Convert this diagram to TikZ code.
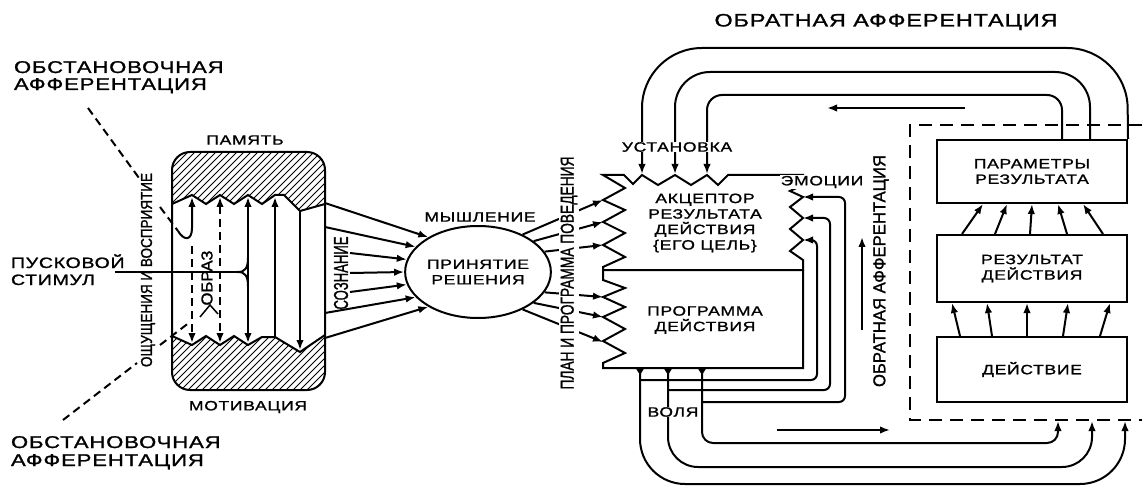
\documentclass[tikz,border=0pt]{standalone}
\usepackage{graphicx}
\usepackage{fontspec}
\setmainfont{Liberation Sans}
\newfontfamily\hf[FakeStretch=1.3,LetterSpace=5,FakeBold=1.3]{Liberation Sans}
\newfontfamily\vf[FakeBold=1.3]{Liberation Sans}
\usetikzlibrary{arrows.meta,shapes.geometric}
\begin{document}
\begin{tikzpicture}[x=1pt,y=-1pt,line width=2pt,
  ar/.style={-{Latex[length=10pt,width=7.5pt]}},
  arr/.style={{Latex[length=10pt,width=7.5pt]}-{Latex[length=10pt,width=7.5pt]}},
  dsh/.style={dash pattern=on 8pt off 5pt},
  lbl/.style={font=\hf\fontsize{13.5}{15.5}\selectfont, inner sep=0.5pt, align=center},
  wlbl/.style={lbl, fill=white},
  lft/.style={font=\hf\fontsize{17}{19}\selectfont, inner sep=0pt, anchor=base west},
  lfts/.style={font=\hf\fontsize{15}{17}\selectfont, inner sep=0pt, anchor=base west},
  rbox/.style={draw, minimum width=190pt, lbl, inner sep=2pt},
  vt/.style={rotate=90, inner sep=1pt, font=\vf}]
\useasboundingbox (0,0) rectangle (1142,486);
\fill[white] (0,0) rectangle (1142,486);

% ---------- memory block ----------
\begin{scope}
  \clip[rounded corners=18] (172,152) rectangle (325,390);
  \begin{scope}
    \clip (160,140) -- (335,140) -- (335,204) -- (325,204) -- (300,211) -- (284,195) -- (275,195)
      -- (262,204) -- (248,195) -- (234,204) -- (220,195) -- (206,204) -- (192,195) -- (172,204) -- (160,204) -- cycle;
    \foreach \i in {-130,-123,...,330} \draw[line width=1pt] (\i,400) -- ++(270,-270);
  \end{scope}
  \begin{scope}
    \clip (160,336) -- (172,336) -- (192,345) -- (206,336) -- (220,345) -- (234,336) -- (248,345) -- (262,337)
      -- (275,337) -- (300,352) -- (325,335) -- (335,335) -- (335,400) -- (160,400) -- cycle;
    \foreach \i in {-130,-123,...,330} \draw[line width=1pt] (\i,400) -- ++(270,-270);
  \end{scope}
\end{scope}
\draw (172,204) -- (192,195) -- (206,204) -- (220,195) -- (234,204) -- (248,195) -- (262,204) -- (275,195)
  -- (284,195) -- (300,211) -- (325,204);
\draw (172,336) -- (192,345) -- (206,336) -- (220,345) -- (234,336) -- (248,345) -- (262,337)
  -- (275,337) -- (300,352) -- (325,335);
\draw[rounded corners=18] (172,152) rectangle (325,390);

% afferent dashed lines and inner arrows
\coordinate (oa1) at (88,108);
\coordinate (oa2) at (63,420);
\draw[dsh] (oa1) -- (139,178);
\draw[dsh] (160,207) -- (178,231);
\draw[ar] (178,231) .. controls (184,241) and (192,241) .. (192,228) -- (192,197);
\draw[ar, dsh] (192,246) -- (192,343);
\draw[dsh] (oa2) -- (137,363);
\draw[dsh] (160,345) -- (190,322);
\draw[arr, dsh] (220,197) -- (220,343);
\draw[line width=1.5pt] (200,317) -- (210,305) -- (218,314);
\draw[arr] (248,197) -- (248,343);
\draw[ar] (275,337) -- (275,197);
\draw[ar] (300,210) -- (300,350);
\coordinate (stim) at (115,272);
\draw (stim) -- (238,272);
\draw (248,258) .. controls (248,268) and (245,272) .. (238,272) .. controls (245,272) and (248,276) .. (248,286);

% ---------- decision ----------
\node[draw, ellipse, minimum width=124pt, minimum height=92pt, inner sep=0pt, lbl] (dec) at (478,272) {ПРИНЯТИЕ\\РЕШЕНИЯ};
\foreach \y/\s/\a in {203/325/145, 227/325/158, 253/350/170, 273/350/180, 292/350/190, 313/325/202, 338/325/215}
  \draw[ar] (\s,\y) -- (dec.\a);
\foreach \a/\y in {40/200, 29/222, 17/245, -17/297, -29/317, -40/342}
  \draw[ar] (dec.\a) -- (603,\y);

% ---------- acceptor / programme block ----------
\draw (603,270) -- (603,267) -- (625,257) -- (603,245) -- (625,233) -- (603,222) -- (625,210) -- (603,200)
  -- (625,188) -- (603,175) -- (624,175) -- (633,184) -- (642,175) -- (658,185) -- (675,175) -- (691,185)
  -- (707,175) -- (718,185) -- (728,175) -- (803,175) -- (803,185) -- (790,191) -- (803,197) -- (790,207)
  -- (803,218) -- (790,229) -- (803,240) -- (790,251) -- (803,260) -- (803,270) -- cycle;
\draw (603,270) -- (603,280) -- (625,288) -- (603,297) -- (625,307) -- (603,317) -- (625,329) -- (603,341)
  -- (625,353) -- (603,363) -- (603,368) -- (803,368) -- (803,270);

\coordinate (u1) at (642,174); \coordinate (u2) at (675,174); \coordinate (u3) at (707,174);
\coordinate (e1) at (803,197); \coordinate (e2) at (803,218); \coordinate (e3) at (803,240);
\coordinate (j1) at (640,368); \coordinate (j2) at (668,368); \coordinate (j3) at (702,368);
\foreach \x in {640,668,702} \fill (\x-5,367) -- (\x+5,367) -- (\x,375) -- cycle;

% ---------- right boxes ----------
\node[rbox, minimum height=63pt] (par) at (1032,171.5) {ПАРАМЕТРЫ\\РЕЗУЛЬТАТА};
\node[rbox, minimum height=67pt] (res) at (1032,268.5) {РЕЗУЛЬТАТ\\ДЕЙСТВИЯ};
\node[rbox, minimum height=65pt] (act) at (1032,369.5) {ДЕЙСТВИЕ};
\foreach \a/\b in {-72/-80,-40/-45,-5/-5,31/36,68/78}
  \draw[ar] ([xshift=\a pt]act.north) -- ([xshift=\b pt]res.south);
\foreach \a/\b in {-70/-49,-37/-25,-2/0,35/26,71/51}
  \draw[ar] ([xshift=\a pt]res.north) -- ([xshift=\b pt]par.south);
\draw[dash pattern=on 13pt off 8pt] (1142,125) -- (910,125) -- (910,420) -- (1142,420);

% top feedback loops
\draw[ar, rounded corners=60] (par.north east) -- (1127,48) -- (642,48) -- (u1);
\draw[ar, rounded corners=35] ([xshift=58pt]par.north) -- (1090,72) -- (675,72) -- (u2);
\draw[ar, rounded corners=15] ([xshift=30pt]par.north) -- (1062,95) -- (707,95) -- (u3);

% emotion loops
\draw[ar, rounded corners=6] (640,380) -- (817,380) -- (817,240) -- (e3);
\draw[ar, rounded corners=6] (668,390) -- (830,390) -- (830,218) -- (e2);
\draw[ar, rounded corners=6] (702,402) -- (845,402) -- (845,197) -- (e1);

% will loops
\draw[ar, rounded corners=11] (j3) -- (702,443) -- (1058,443) -- (1058,421);
\draw[ar, rounded corners=30] (j2) -- (668,467) -- (1092,467) -- (1092,421);
\draw[ar, rounded corners=45] (j1) -- (640,484) -- (1125,484) -- (1125,421);

% free arrows
\coordinate (fa1) at (965,108); \coordinate (fa2) at (827,108);
\coordinate (fb1) at (862,330); \coordinate (fb2) at (862,237);
\coordinate (fc1) at (777,430); \coordinate (fc2) at (890,430);
\draw[ar] (fa1) -- (fa2);
\draw[ar] (fb1) -- (fb2);
\draw[ar] (fc1) -- (fc2);

% ---------- labels ----------
\node[font=\hf\fontsize{18}{20}\selectfont, inner sep=0pt] (toplab) at (886,22) {ОБРАТНАЯ АФФЕРЕНТАЦИЯ};
\node[lft] (ob1) at (13,73) {ОБСТАНОВОЧНАЯ};
\node[lft] (ob2) at (13,90) {АФФЕРЕНТАЦИЯ};
\node[lft] (ob3) at (10,448) {ОБСТАНОВОЧНАЯ};
\node[lft] (ob4) at (10,466) {АФФЕРЕНТАЦИЯ};
\node[lfts] (pu1) at (10,268) {ПУСКОВОЙ};
\node[lfts] (pu2) at (10,285) {СТИМУЛ};
\node[lbl] (pam) at (245,140) {ПАМЯТЬ};
\node[lbl] (mot) at (248,407) {МОТИВАЦИЯ};
\node[lbl] (mys) at (480,217) {МЫШЛЕНИЕ};
\node[wlbl] (ust) at (677,147) {УСТАНОВКА};
\node[wlbl] (emo) at (822,182) {ЭМОЦИИ};
\node[lbl] (akc) at (705,223) {АКЦЕПТОР\\РЕЗУЛЬТАТА\\ДЕЙСТВИЯ\\\{ЕГО ЦЕЛЬ\}};
\node[lbl] (prg) at (705,320) {ПРОГРАММА\\ДЕЙСТВИЯ};
\node[wlbl] (vol) at (673,412) {ВОЛЯ};

\node[vt] (osh) at (148,270) {\resizebox{194pt}{11pt}{ОЩУЩЕНИЯ И ВОСПРИЯТИЕ}};
\node[vt] (obr) at (207,278) {\resizebox{55pt}{11pt}{ОБРАЗ}};
\node[vt] (soz) at (341,273) {\resizebox{73pt}{14pt}{СОЗНАНИЕ}};
\node[vt, fill=white, inner sep=1.5pt] (plan) at (569,273) {\resizebox{233pt}{13pt}{ПЛАН И ПРОГРАММА ПОВЕДЕНИЯ}};
\node[vt] (obv) at (881,271) {\resizebox{232pt}{12pt}{ОБРАТНАЯ АФФЕРЕНТАЦИЯ}};
\end{tikzpicture}
\end{document}
